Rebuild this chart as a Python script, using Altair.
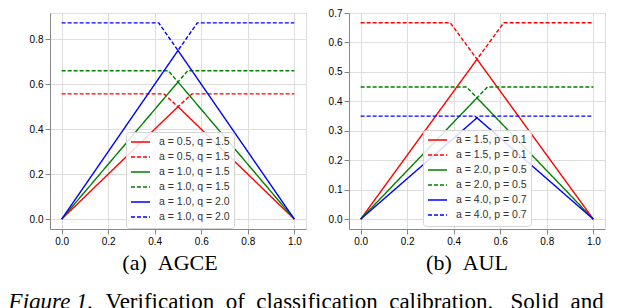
import altair as alt
import pandas as pd

# ---------------- data ----------------
agce_labels = ["a = 0.5, q = 1.5", "a = 1.0, q = 1.5", "a = 1.0, q = 2.0"]
aul_labels = ["a = 1.5, p = 0.1", "a = 2.0, p = 0.5", "a = 4.0, p = 0.7"]
series_colors = ["#ff0000", "#008000", "#0000ff"]

solid_x = [0.0, 0.5, 1.0]
agce_solid_y = [[0.0, 0.50, 0.0], [0.0, 0.61, 0.0], [0.0, 0.75, 0.0]]
agce_dash_x = [[0.0, 0.44, 0.5, 0.56, 1.0],
               [0.0, 0.458, 0.5, 0.542, 1.0],
               [0.0, 0.417, 0.5, 0.583, 1.0]]
agce_dash_y = [[0.557, 0.557, 0.50, 0.557, 0.557],
               [0.66, 0.66, 0.61, 0.66, 0.66],
               [0.873, 0.873, 0.75, 0.873, 0.873]]

aul_solid_y = [[0.0, 0.543, 0.0], [0.0, 0.412, 0.0], [0.0, 0.344, 0.0]]
aul_dash_x = [[0.0, 0.385, 0.5, 0.615, 1.0],
              [0.0, 0.455, 0.5, 0.545, 1.0],
              [0.0, 0.491, 0.5, 0.509, 1.0]]
aul_dash_y = [[0.667, 0.667, 0.543, 0.667, 0.667],
              [0.449, 0.449, 0.412, 0.449, 0.449],
              [0.35, 0.35, 0.344, 0.35, 0.35]]

x_ticks = [0.0, 0.2, 0.4, 0.6, 0.8, 1.0]
agce_y_ticks = [0.0, 0.2, 0.4, 0.6, 0.8]
aul_y_ticks = [0.0, 0.1, 0.2, 0.3, 0.4, 0.5, 0.6, 0.7]

subtitle_a = "(a)\u00a0\u00a0AGCE"
subtitle_b = "(b)\u00a0\u00a0AUL"
caption_head = "Figure 1."
caption_rest = ("Verification\u00a0\u00a0of\u00a0\u00a0classification\u00a0\u00a0"
                "calibration.\u00a0\u00a0\u00a0Solid\u00a0\u00a0and")

PANEL_W = 256
PANEL_H = 216
CAP_SIZE = 23


def build_frame(labels, sy, dx, dy):
    rows = []
    keys = []
    cols = []
    dashes = []
    for i, lab in enumerate(labels):
        ks = lab + "|s"
        kd = lab + "|d"
        keys += [ks, kd]
        cols += [series_colors[i], series_colors[i]]
        dashes += [[1, 0], [4, 2]]
        for j, (xv, yv) in enumerate(zip(solid_x, sy[i])):
            rows.append({"x": xv, "y": yv, "key": ks, "o": j})
        for j, (xv, yv) in enumerate(zip(dx[i], dy[i])):
            rows.append({"x": xv, "y": yv, "key": kd, "o": j})
    return pd.DataFrame(rows), keys, cols, dashes


def panel(labels, sy, dx, dy, ydom, yticks, lx, ly, title, tdx):
    df, keys, cols, dashes = build_frame(labels, sy, dx, dy)
    leg = alt.Legend(
        orient="none", legendX=lx, legendY=ly, title=None,
        labelExpr="split(datum.label, '|')[0]",
        symbolType="stroke", symbolStrokeWidth=1.5, symbolSize=361,
        labelFont="Liberation Sans", labelFontSize=10.5, labelColor="#333333",
        fillColor="rgba(255,255,255,0.85)", strokeColor="#d6d6d6",
        cornerRadius=3, padding=4, rowPadding=2, clipHeight=12.2, labelOffset=8,
    )
    return alt.Chart(df).mark_line(strokeWidth=1.4).encode(
        x=alt.X("x:Q", scale=alt.Scale(domain=[-0.05, 1.05], nice=False, zero=False),
                axis=alt.Axis(values=x_ticks, format=".1f", title=None)),
        y=alt.Y("y:Q", scale=alt.Scale(domain=ydom, nice=False, zero=False),
                axis=alt.Axis(values=yticks, format=".1f", title=None)),
        color=alt.Color("key:N", scale=alt.Scale(domain=keys, range=cols), legend=leg),
        strokeDash=alt.StrokeDash("key:N", scale=alt.Scale(domain=keys, range=dashes), legend=leg),
        order=alt.Order("o:Q"),
    ).properties(
        width=PANEL_W, height=PANEL_H,
        title=alt.TitleParams(title, orient="bottom", font="Liberation Serif", fontSize=22,
                              fontWeight="normal", color="black", offset=7, dx=tdx),
    )


left = panel(agce_labels, agce_solid_y, agce_dash_x, agce_dash_y,
             [-0.0437, 0.9167], agce_y_ticks, 76, 119, subtitle_a, -8)
right = panel(aul_labels, aul_solid_y, aul_dash_x, aul_dash_y,
              [-0.0333, 0.7], aul_y_ticks, 74, 117, subtitle_b, -10)

inner = alt.hconcat(left, right, spacing=20).resolve_scale(
    color="independent", strokeDash="independent", x="independent", y="independent"
).resolve_legend(color="independent", strokeDash="independent").properties(
    title=alt.TitleParams(caption_head, orient="bottom", anchor="start", font="Liberation Serif",
                          fontSize=CAP_SIZE, fontStyle="italic", fontWeight="normal", color="black",
                          dx=-20, offset=16)
)

chart = alt.vconcat(inner).properties(
    title=alt.TitleParams(caption_rest, orient="bottom", anchor="start", font="Liberation Serif",
                          fontSize=CAP_SIZE, fontWeight="normal", color="black",
                          dx=97, dy=-CAP_SIZE, offset=0),
    padding={"left": 0, "top": -1, "right": 0, "bottom": 0},
).configure_view(stroke="#d6d6d6", strokeWidth=1).configure_axis(
    grid=True, gridColor="#e6e6e6", gridWidth=1, domain=False, ticks=False,
    labelFont="Liberation Sans", labelFontSize=10, labelColor="#444444", labelPadding=3,
).configure(background="white")

chart.save("out.html", embed_options={"renderer": "svg", "actions": False})
